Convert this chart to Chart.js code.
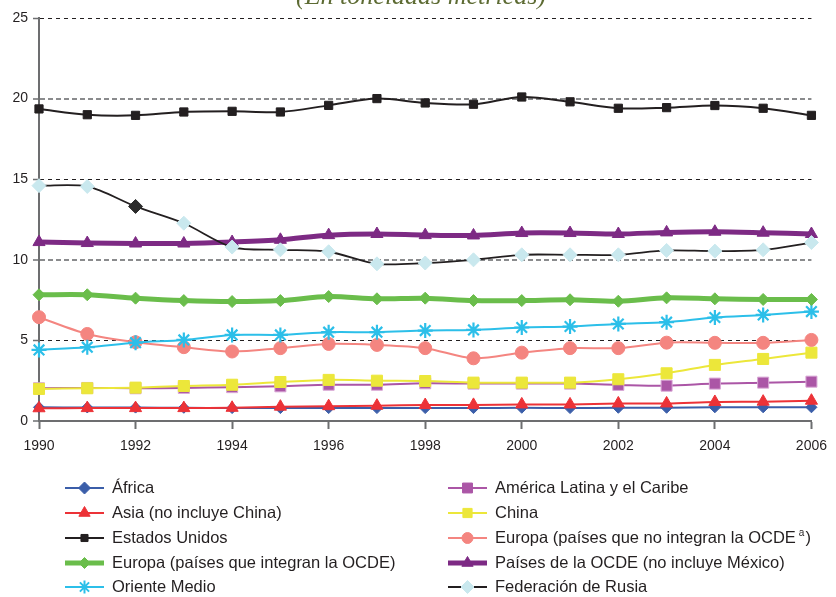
<!DOCTYPE html>
<html>
<head>
<meta charset="utf-8">
<script src="https://cdn.jsdelivr.net/npm/chart.js@4"></script>
<style>
  html, body { margin: 0; padding: 0; background: #fff; }
  canvas { display: block; }
</style>
</head>
<body>
<canvas id="chart" width="836" height="597"></canvas>
<script>
const years = [1990, 1991, 1992, 1993, 1994, 1995, 1996, 1997, 1998, 1999, 2000, 2001, 2002, 2003, 2004, 2005, 2006];

const africa = [0.85, 0.84, 0.83, 0.82, 0.8, 0.8, 0.8, 0.8, 0.8, 0.8, 0.82, 0.8, 0.82, 0.82, 0.85, 0.85, 0.85];
const asia = [0.79, 0.8, 0.8, 0.8, 0.82, 0.89, 0.92, 0.95, 0.99, 1.0, 1.03, 1.03, 1.09, 1.09, 1.18, 1.2, 1.26];
const estadosUnidos = [19.36, 19.0, 18.96, 19.17, 19.21, 19.17, 19.58, 20.0, 19.73, 19.65, 20.1, 19.8, 19.4, 19.44, 19.57, 19.4, 18.96];
const europaOcde = [7.83, 7.83, 7.62, 7.47, 7.41, 7.47, 7.72, 7.58, 7.62, 7.47, 7.47, 7.52, 7.43, 7.64, 7.58, 7.54, 7.54];
const orienteMedio = [4.41, 4.58, 4.86, 5.03, 5.34, 5.34, 5.51, 5.51, 5.61, 5.65, 5.8, 5.86, 6.02, 6.13, 6.42, 6.58, 6.79];
const americaLatina = [2.03, 2.05, 2.03, 2.05, 2.1, 2.15, 2.25, 2.25, 2.34, 2.32, 2.32, 2.32, 2.24, 2.19, 2.32, 2.38, 2.44];
const china = [1.99, 2.03, 2.07, 2.17, 2.25, 2.42, 2.55, 2.5, 2.48, 2.38, 2.38, 2.38, 2.59, 2.96, 3.48, 3.85, 4.24];
const europaNoOcde = [6.44, 5.4, 4.89, 4.58, 4.31, 4.52, 4.78, 4.72, 4.52, 3.89, 4.24, 4.52, 4.52, 4.86, 4.85, 4.85, 5.03];
const paisesOcde = [11.1, 11.04, 11.01, 11.01, 11.1, 11.24, 11.53, 11.6, 11.53, 11.51, 11.66, 11.66, 11.6, 11.7, 11.74, 11.68, 11.6];
const rusia = [14.6, 14.55, 13.31, 12.27, 10.79, 10.62, 10.5, 9.75, 9.8, 10.0, 10.31, 10.31, 10.31, 10.58, 10.54, 10.62, 11.07];

const yTicks = [0, 5, 10, 15, 20, 25];
const xTickStep = 2;

const toPoints = (vals) => vals.map((v, i) => ({ x: years[i], y: v }));

const series = (label, vals, opts) => Object.assign({
  label,
  data: toPoints(vals),
  borderWidth: 2,
  tension: 0.3,
  pointBorderWidth: 1,
  clip: false,
}, opts);

const datasets = [
  series("África", africa, {
    borderColor: "#3b5ea9", backgroundColor: "#3b5ea9", pointStyle: "rectRot", pointRadius: 5.5,
    pointBorderColor: "#3b5ea9", order: 10, legendRadius: 6,
  }),
  series("Asia (no incluye China)", asia, {
    borderColor: "#ec3237", backgroundColor: "#ec3237", pointStyle: "triangle", pointRadius: 7,
    pointBorderColor: "#ec3237", order: 9, legendRadius: 6.5,
  }),
  series("Estados Unidos", estadosUnidos, {
    borderColor: "#231f20", backgroundColor: "#231f20", pointStyle: "rect", pointRadius: 5.8,
    pointBorderColor: "#231f20", order: 2, legendRadius: 5,
  }),
  series("Europa (países que integran la OCDE)", europaOcde, {
    borderColor: "#6abd4b", backgroundColor: "#6abd4b", borderWidth: 5, pointStyle: "rectRot", pointRadius: 6,
    pointBorderColor: "#6abd4b", order: 3, legendRadius: 5.5,
  }),
  series("Oriente Medio", orienteMedio, {
    borderColor: "#2cbfe9", backgroundColor: "#2cbfe9", pointStyle: "star", pointRadius: 7.5,
    pointBorderColor: "#2cbfe9", pointBorderWidth: 2.2, order: 5, legendRadius: 6.5,
  }),
  series("América Latina y el Caribe", americaLatina, {
    borderColor: "#ab56a6", backgroundColor: "#ab56a6", pointStyle: "rect", pointRadius: 7.8,
    pointBorderColor: "#d9a8d6", order: 8, legendRadius: 7,
  }),
  series("China", china, {
    borderColor: "#ece73a", backgroundColor: "#ece73a", pointStyle: "rect", pointRadius: 7.8,
    pointBorderColor: "#ece73a", order: 7, legendRadius: 6.5,
  }),
  series("Europa (países que no integran la OCDE", europaNoOcde, {
    borderColor: "#f48580", backgroundColor: "#f48580", pointStyle: "circle", pointRadius: 6.5,
    pointBorderColor: "#f48580", order: 6, legendRadius: 5.5, legendSup: "a",
  }),
  series("Países de la OCDE (no incluye México)", paisesOcde, {
    borderColor: "#7d2a84", backgroundColor: "#7d2a84", borderWidth: 5, pointStyle: "triangle", pointRadius: 7,
    pointBorderColor: "#7d2a84", order: 4, legendRadius: 6.5,
  }),
  series("Federación de Rusia", rusia, {
    borderColor: "#231f20", backgroundColor: "#c9e8ee", borderWidth: 1.8, pointStyle: "rectRot", pointRadius: 7,
    pointBackgroundColor: (c) => (c.dataIndex === 2 ? "#2b2b2b" : "#c9e8ee"),
    pointBorderColor: (c) => (c.dataIndex === 2 ? "#2b2b2b" : "#c9e8ee"),
    order: 1, legendRadius: 6.5,
  }),
];

// two legend columns, five rows each
const legendCols = [
  ["África", "Asia (no incluye China)", "Estados Unidos", "Europa (países que integran la OCDE)", "Oriente Medio"],
  ["América Latina y el Caribe", "China", "Europa (países que no integran la OCDE", "Países de la OCDE (no incluye México)", "Federación de Rusia"],
];

const titlePlugin = {
  id: "topTitle",
  afterDraw(chart) {
    const { ctx } = chart;
    ctx.save();
    ctx.font = "italic 26px 'Liberation Serif', 'DejaVu Serif', serif";
    ctx.fillStyle = "#5d6b33";
    ctx.textAlign = "center";
    ctx.textBaseline = "alphabetic";
    ctx.fillText("(En toneladas métricas)", 421, 4);
    ctx.restore();
  },
};

const legendFont = "16.5px 'Liberation Sans', Arial, sans-serif";

const legendPlugin = {
  id: "gridLegend",
  afterDraw(chart) {
    const { ctx } = chart;
    const colX = [65, 448];
    const rowY = [488, 513, 538, 563, 587];
    ctx.save();
    legendCols.forEach((col, ci) => {
      col.forEach((label, ri) => {
        const ds = chart.data.datasets.find((d) => d.label === label);
        const x0 = colX[ci];
        const y = rowY[ri];
        ctx.strokeStyle = ds.borderColor;
        ctx.lineWidth = ds.borderWidth;
        ctx.beginPath();
        ctx.moveTo(x0, y);
        ctx.lineTo(x0 + 39, y);
        ctx.stroke();
        const pbg = typeof ds.pointBackgroundColor === "string" ? ds.pointBackgroundColor : ds.backgroundColor;
        ctx.fillStyle = ds.pointStyle === "star" ? ds.borderColor : pbg;
        ctx.strokeStyle = ds.pointStyle === "star" ? ds.borderColor : pbg;
        ctx.lineWidth = ds.pointStyle === "star" ? 2 : 1;
        Chart.helpers.drawPoint(ctx, {
          pointStyle: ds.pointStyle, radius: ds.legendRadius, rotation: 0, borderWidth: ctx.lineWidth,
        }, x0 + 19.5, y);
        ctx.fillStyle = "#231f20";
        ctx.font = legendFont;
        ctx.textAlign = "left";
        ctx.textBaseline = "middle";
        const tx = x0 + 47;
        ctx.fillText(label, tx, y);
        if (ds.legendSup) {
          let w = ctx.measureText(label).width + 3;
          ctx.font = "10px 'Liberation Sans', Arial, sans-serif";
          ctx.fillText(ds.legendSup, tx + w, y - 5);
          w += ctx.measureText(ds.legendSup).width + 1;
          ctx.font = legendFont;
          ctx.fillText(")", tx + w, y);
        }
      });
    });
    ctx.restore();
  },
};

new Chart(document.getElementById("chart"), {
  type: "line",
  data: { datasets },
  plugins: [titlePlugin, legendPlugin],
  options: {
    responsive: false,
    devicePixelRatio: 1,
    animation: false,
    layout: { padding: { top: 18, right: 21, bottom: 136, left: 0 } },
    plugins: { legend: { display: false }, tooltip: { enabled: false } },
    scales: {
      x: {
        type: "linear",
        min: years[0],
        max: years[years.length - 1],
        afterFit: (s) => { s.height = 40; },
        ticks: {
          stepSize: xTickStep,
          padding: 9,
          color: "#231f20",
          font: { family: "'Liberation Sans', Arial, sans-serif", size: 14 },
          callback: (v) => String(v),
        },
        grid: { drawOnChartArea: false, drawTicks: true, tickLength: 8, tickColor: "#6d6e70", tickWidth: 2 },
        border: { color: "#6d6e70", width: 2 },
      },
      y: {
        min: 0,
        max: 25,
        afterFit: (s) => { s.width = 39; },
        afterBuildTicks: (s) => { s.ticks = yTicks.map((v) => ({ value: v })); },
        ticks: {
          padding: 5,
          color: "#231f20",
          font: { family: "'Liberation Sans', Arial, sans-serif", size: 14 },
        },
        grid: {
          color: (c) => {
            const v = c.tick && c.tick.value;
            if (v === 0) return "rgba(0,0,0,0)";
            return v % 10 === 0 ? "#8a8b8d" : "#231f20";
          },
          lineWidth: (c) => (c.tick && c.tick.value % 10 === 0 ? 2 : 1),
          tickLength: 6,
          tickColor: "#6d6e70",
          tickWidth: 1.5,
        },
        border: {
          color: "#6d6e70",
          width: 2,
          dash: (c) => (c.tick && c.tick.value % 10 === 0 ? [5, 3] : [4, 4]),
        },
      },
    },
  },
});
</script>
</body>
</html>
